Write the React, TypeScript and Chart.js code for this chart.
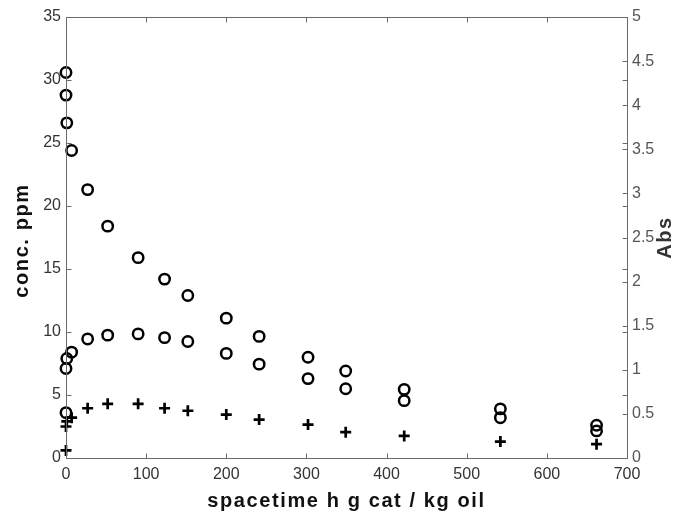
import { useEffect, useRef } from "react";
import { Chart, registerables } from "chart.js";

Chart.register(...registerables);

// Spacetime (h g cat / kg oil) of each sample
const spacetime = [0, 0, 1, 7, 27, 52, 90, 123, 152, 200, 241, 302, 349, 422, 542, 662];
// Concentration series (ppm), drawn as open circles
const upperConc = [30.6, 28.8, 26.6, 24.4, 21.3, 18.4, 15.9, 14.2, 12.9, 11.1, 9.65, 8.0, 6.9, 5.45, 3.9, 2.6];
const lowerConc = [3.6, 7.1, 7.9, 8.4, 9.45, 9.75, 9.85, 9.55, 9.25, 8.3, 7.45, 6.3, 5.5, 4.55, 3.2, 2.15];
// Third series, drawn as crosses (in left-axis units)
const crossSeries = [0.6, 2.5, 2.9, 3.2, 3.95, 4.3, 4.3, 3.95, 3.75, 3.45, 3.05, 2.65, 2.05, 1.75, 1.3, 1.1];

const leftRange = [0, 35];
const rightRange = [0, 5];
const xRange = [0, 700];

const xTitle = "spacetime h g cat / kg oil";
const leftTitle = "conc. ppm";
const rightTitle = "Abs";

const AXIS_COLOR = "#6a6a6a";
const FONT = "'Liberation Sans', Arial, Helvetica, sans-serif";

const toPoints = (ys: number[]) => ys.map((v, i) => ({ x: spacetime[i], y: v }));

const framePlugin = {
  id: "frame",
  afterDraw(chart: any) {
    const { ctx, chartArea: a, scales } = chart;
    const L = Math.round(a.left) + 0.5;
    const R = Math.round(a.right) + 0.5;
    const T = Math.round(a.top) + 0.5;
    const B = Math.round(a.bottom) + 0.5;
    const tick = 5;
    ctx.save();
    ctx.strokeStyle = AXIS_COLOR;
    ctx.lineWidth = 1;
    ctx.beginPath();
    ctx.rect(L, T, R - L, B - T);
    // x ticks, inward at bottom and top
    scales.x.ticks.forEach((t: any) => {
      const px = Math.round(scales.x.getPixelForValue(t.value)) + 0.5;
      ctx.moveTo(px, B);
      ctx.lineTo(px, B - tick);
      ctx.moveTo(px, T);
      ctx.lineTo(px, T + tick);
    });
    // left axis ticks, inward on both sides
    scales.y.ticks.forEach((t: any) => {
      const py = Math.round(scales.y.getPixelForValue(t.value)) + 0.5;
      ctx.moveTo(L, py);
      ctx.lineTo(L + tick, py);
      ctx.moveTo(R, py);
      ctx.lineTo(R - tick, py);
    });
    // right axis ticks
    scales.y1.ticks.forEach((t: any) => {
      const py = Math.round(scales.y1.getPixelForValue(t.value)) + 0.5;
      ctx.moveTo(R, py);
      ctx.lineTo(R - tick, py);
    });
    ctx.stroke();

    // axis titles
    ctx.font = `bold 20px ${FONT}`;
    (ctx as any).letterSpacing = "1.6px";
    ctx.textAlign = "center";
    ctx.fillStyle = "#111";
    ctx.textBaseline = "alphabetic";
    ctx.fillText(xTitle, (a.left + a.right) / 2, 507);

    const midY = (a.top + a.bottom) / 2;
    ctx.textBaseline = "middle";
    ctx.save();
    ctx.translate(22, midY + 3);
    ctx.rotate(-Math.PI / 2);
    ctx.fillText(leftTitle, 0, 0);
    ctx.restore();

    ctx.fillStyle = "#333";
    ctx.save();
    ctx.translate(665, midY);
    ctx.rotate(-Math.PI / 2);
    ctx.fillText(rightTitle, 0, 0);
    ctx.restore();

    ctx.restore();
  },
};

export default function App() {
  const canvasRef = useRef<HTMLCanvasElement | null>(null);

  useEffect(() => {
    const canvas = canvasRef.current;
    if (!canvas) return;
    const markerBase = {
      showLine: false,
      clip: false as any,
      borderColor: "#000",
      backgroundColor: "rgba(0,0,0,0)",
      yAxisID: "y",
    };
    const chart = new Chart(canvas, {
      type: "scatter",
      data: {
        datasets: [
          {
            ...markerBase,
            label: "upper",
            data: toPoints(upperConc),
            pointStyle: "circle",
            pointRadius: 5.2,
            pointBorderWidth: 2.5,
          },
          {
            ...markerBase,
            label: "lower",
            data: toPoints(lowerConc),
            pointStyle: "circle",
            pointRadius: 5.2,
            pointBorderWidth: 2.5,
          },
          {
            ...markerBase,
            label: "cross",
            data: toPoints(crossSeries),
            pointStyle: "cross",
            pointRadius: 5.5,
            pointBorderWidth: 2.7,
          },
        ],
      },
      options: {
        animation: false,
        responsive: false,
        maintainAspectRatio: false,
        events: [],
        layout: { padding: { top: 17, left: 0, right: 0, bottom: 0 } },
        plugins: {
          legend: { display: false },
          tooltip: { enabled: false },
        },
        scales: {
          x: {
            type: "linear",
            min: xRange[0],
            max: xRange[1],
            grid: { display: false, drawTicks: false },
            border: { display: false },
            ticks: {
              stepSize: 100,
              padding: 7,
              color: "#333",
              font: { family: FONT, size: 16 },
              maxRotation: 0,
            },
            afterFit(scale: any) {
              scale.height = 60;
              scale.paddingLeft = 0;
              scale.paddingRight = 0;
            },
          },
          y: {
            type: "linear",
            position: "left",
            min: leftRange[0],
            max: leftRange[1],
            grid: { display: false, drawTicks: false },
            border: { display: false },
            ticks: {
              stepSize: 5,
              padding: 5,
              color: "#333",
              font: { family: FONT, size: 16 },
            },
            afterFit(scale: any) {
              scale.width = 66;
              scale.paddingTop = 0;
              scale.paddingBottom = 0;
            },
          },
          y1: {
            type: "linear",
            position: "right",
            min: rightRange[0],
            max: rightRange[1],
            grid: { display: false, drawTicks: false },
            border: { display: false },
            ticks: {
              stepSize: 0.5,
              padding: 5,
              color: "#555",
              font: { family: FONT, size: 16 },
              callback: (value: any) => String(Number(value)),
            },
            afterFit(scale: any) {
              scale.width = 56;
              scale.paddingTop = 0;
              scale.paddingBottom = 0;
            },
          },
        },
      },
      plugins: [framePlugin],
    });
    return () => chart.destroy();
  }, []);

  return (
    <div style={{ position: "absolute", left: 0, top: 0, width: 683, height: 518, background: "#fff" }}>
      <canvas ref={canvasRef} width={683} height={518} style={{ display: "block" }} />
    </div>
  );
}
